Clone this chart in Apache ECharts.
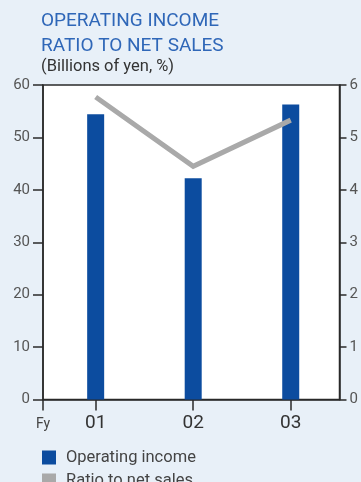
<!DOCTYPE html>
<html>
<head>
<meta charset="utf-8">
<script src="https://cdn.jsdelivr.net/npm/echarts@6/dist/echarts.min.js"></script>
<style>
  html, body { margin: 0; padding: 0; background: #e8f0f8; }
  #chart { width: 361px; height: 482px; }
</style>
</head>
<body>
<div id="chart"></div>
<script>
// Fiscal years and their positions on the year axis
const years = ['01', '02', '03'];
const yearPos = [1, 2, 3];
// Operating income, billions of yen
const operatingIncome = [54.4, 42.2, 56.3];
// Ratio to net sales, %
const ratioToSales = [5.77, 4.45, 5.33];
// Axis tick labels
const leftTicks = [0, 10, 20, 30, 40, 50, 60];
const rightTicks = [0, 1, 2, 3, 4, 5, 6];

const FONT = 'Roboto, "Liberation Sans", Arial, sans-serif';
const xMin = 0.46, xMax = 3.5;
const BAR_COLOR = '#0c4c9f';
const LINE_COLOR = '#a9a9a9';
const AXIS_COLOR = '#2a2a2a';

const chart = echarts.init(document.getElementById('chart'), null, { renderer: 'canvas' });

const legendText = { fontFamily: FONT, fontSize: 16.5, color: '#444', padding: [0, 0, 0, 5] };

chart.setOption({
  backgroundColor: '#e8f0f8',
  animation: false,
  title: [{
    text: 'OPERATING INCOME\nRATIO TO NET SALES',
    left: 41, top: 9, padding: 0,
    textStyle: { fontFamily: FONT, fontSize: 19, fontWeight: 'normal', color: '#2f67b8', lineHeight: 25 }
  }, {
    text: '(Billions of yen, %)',
    left: 41, top: 58, padding: 0,
    textStyle: { fontFamily: FONT, fontSize: 16.5, fontWeight: 'normal', color: '#333' }
  }],
  grid: {
    left: 43, right: 21.5, top: 85, bottom: 82.5,
    show: true, backgroundColor: '#ffffff', borderColor: AXIS_COLOR, borderWidth: 1.5
  },
  legend: [{
    left: 42, top: 449, padding: 0,
    itemWidth: 14, itemHeight: 14,
    textStyle: legendText,
    data: [{ name: 'Operating income', icon: 'rect' }]
  }, {
    left: 42, top: 472, padding: 0,
    itemWidth: 14, itemHeight: 14,
    textStyle: legendText,
    data: [{ name: 'Ratio to net sales', icon: 'rect' }]
  }],
  xAxis: {
    type: 'value', min: xMin, max: xMax,
    splitLine: { show: false },
    axisLine: { show: true, lineStyle: { color: AXIS_COLOR, width: 1.5 } },
    axisTick: {
      show: true, length: 11, lineStyle: { color: AXIS_COLOR, width: 1.5 },
      customValues: [xMin].concat(yearPos)
    },
    axisLabel: {
      customValues: [xMin].concat(yearPos),
      margin: 14,
      formatter: function (v) {
        const i = yearPos.indexOf(v);
        return i >= 0 ? '{yr|' + years[i] + '}' : '{fy|Fy}';
      },
      rich: {
        yr: { fontFamily: FONT, fontSize: 19, color: '#333' },
        fy: { fontFamily: FONT, fontSize: 14, color: '#444', padding: [4, 0, 0, 0] }
      }
    }
  },
  yAxis: [{
    type: 'value', min: leftTicks[0], max: leftTicks[leftTicks.length - 1], interval: 10,
    splitLine: { show: false },
    axisLine: { show: true, lineStyle: { color: AXIS_COLOR, width: 1.5 } },
    axisTick: { show: true, length: 10, lineStyle: { color: AXIS_COLOR, width: 1.5 } },
    axisLabel: { margin: 13, fontFamily: FONT, fontSize: 15, color: '#555' }
  }, {
    type: 'value', min: rightTicks[0], max: rightTicks[rightTicks.length - 1], interval: 1,
    position: 'right',
    splitLine: { show: false },
    axisLine: { show: true, lineStyle: { color: AXIS_COLOR, width: 1.5 } },
    axisTick: { show: true, length: 7, lineStyle: { color: AXIS_COLOR, width: 1.5 } },
    axisLabel: { margin: 10, fontFamily: FONT, fontSize: 15, color: '#555' }
  }],
  series: [{
    name: 'Operating income',
    type: 'bar',
    barWidth: 17,
    itemStyle: { color: BAR_COLOR },
    data: yearPos.map((x, i) => [x, operatingIncome[i]])
  }, {
    name: 'Ratio to net sales',
    type: 'line',
    yAxisIndex: 1,
    symbol: 'none',
    lineStyle: { color: LINE_COLOR, width: 5, cap: 'butt', join: 'miter' },
    itemStyle: { color: LINE_COLOR },
    data: yearPos.map((x, i) => [x, ratioToSales[i]])
  }]
});
</script>
</body>
</html>
